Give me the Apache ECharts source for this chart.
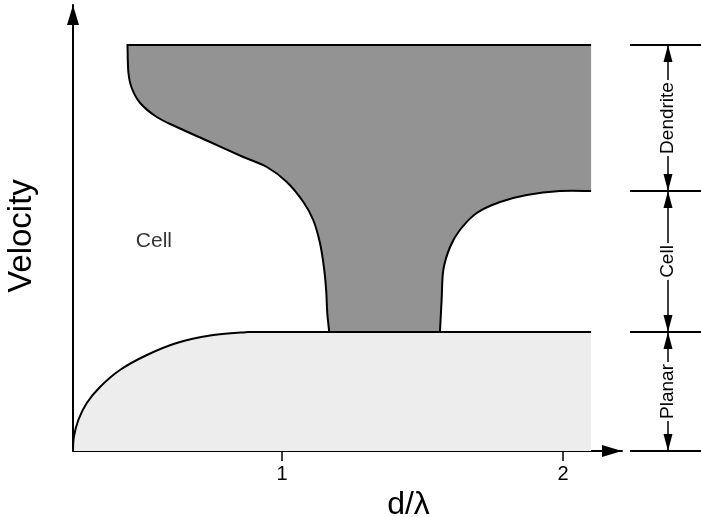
<!DOCTYPE html>
<html><head><meta charset="utf-8">
<script src="https://cdn.jsdelivr.net/npm/echarts@6/dist/echarts.min.js"></script>
<style>html,body{margin:0;padding:0;background:#fff}#c{width:701px;height:517px}</style>
</head><body><div id="c"></div>
<script>
// ---- data (x: d/lambda, y: velocity in arbitrary units) ----
const xTicks = [1, 2];
const xRange = [0.256, 2.21];
const yRange = [0, 4.46];
const regimeBoundaries = [0, 1.19, 2.60, 4.06];
const regimeNames = ['Planar', 'Cell', 'Dendrite'];
const planarEdge = [[0.256,0],[0.259,0.14],[0.275,0.31],[0.305,0.48],[0.352,0.64],[0.423,0.81],[0.519,0.96],[0.625,1.08],[0.744,1.155],[0.88,1.19]];
const regionRightX = 2.10;
const dendriteRightEdge = [[2.10,2.60],[1.989,2.60],[1.871,2.56],[1.776,2.49],[1.693,2.38],[1.633,2.21],[1.598,2.04],[1.574,1.81],[1.568,1.51],[1.562,1.19]];
const dendriteLeftEdge = [[1.168,1.19],[1.161,1.38],[1.157,1.61],[1.149,1.84],[1.135,2.08],[1.111,2.31],[1.076,2.49],[1.017,2.69],[0.946,2.84],[0.862,2.94],[0.744,3.09],[0.625,3.24],[0.554,3.34],[0.495,3.48],[0.465,3.63],[0.453,3.79],[0.45,4.06]];
const cellLabelPos = [[0.544, 2.10]];

const FONT = '"Liberation Sans", Arial, Helvetica, sans-serif';

function curvePath(pts) {
  let d = '';
  for (let i = 0; i < pts.length - 1; i++) {
    const p0 = pts[i-1] || pts[i], p1 = pts[i], p2 = pts[i+1], p3 = pts[i+2] || pts[i+1];
    const c1 = [p1[0] + (p2[0]-p0[0])/6, p1[1] + (p2[1]-p0[1])/6];
    const c2 = [p2[0] - (p3[0]-p1[0])/6, p2[1] - (p3[1]-p1[1])/6];
    d += ' C' + c1[0] + ' ' + c1[1] + ' ' + c2[0] + ' ' + c2[1] + ' ' + p2[0] + ' ' + p2[1];
  }
  return d;
}
const P = p => p[0] + ' ' + p[1];

const chart = echarts.init(document.getElementById('c'));
chart.setOption({
  animation: false,
  backgroundColor: '#fff',
  grid: { left: 73, right: 79, top: 5, bottom: 66, containLabel: false, outerBoundsMode: 'none' },
  xAxis: {
    type: 'value', min: xRange[0], max: xRange[1],
    axisLine: { show: true, onZero: false, lineStyle: { color: '#000', width: 2 },
      symbol: ['none', 'triangle'], symbolSize: [12, 20], symbolOffset: [0, -10] },
    axisTick: { show: true, customValues: xTicks, length: 10, lineStyle: { color: '#000', width: 1.5 } },
    axisLabel: { show: true, customValues: xTicks, fontSize: 20, color: '#000', margin: 13, fontFamily: 'Liberation Sans' },
    splitLine: { show: false },
    name: 'd/λ', nameLocation: 'middle', nameGap: 34,
    nameTextStyle: { fontSize: 32, color: '#000', fontFamily: 'Liberation Sans', padding: [0, 0, 0, 122] }
  },
  yAxis: {
    type: 'value', min: yRange[0], max: yRange[1],
    axisLine: { show: true, onZero: false, lineStyle: { color: '#000', width: 2 },
      symbol: ['none', 'triangle'], symbolSize: [12, 20], symbolOffset: [0, -10] },
    axisTick: { show: false }, axisLabel: { show: false }, splitLine: { show: false },
    name: 'Velocity', nameLocation: 'middle', nameGap: 35,
    nameTextStyle: { fontSize: 33, color: '#000', fontFamily: 'Liberation Sans', padding: [0, 16, 0, 0] }
  },
  series: [
    {
      type: 'custom', name: 'regions', clip: false, z: 1,
      data: [[xRange[0], 0]],
      renderItem: function (params, api) {
        const c = p => api.coord(p);
        const pl = planarEdge.map(c);
        const plTopR = c([regionRightX, planarEdge[planarEdge.length-1][1]]);
        const plBotR = c([regionRightX, 0]);
        const planarCurve = 'M' + P(pl[0]) + curvePath(pl);
        const dr = dendriteRightEdge.map(c), dl = dendriteLeftEdge.map(c);
        const topR = c([regionRightX, dendriteLeftEdge[dendriteLeftEdge.length-1][1]]);
        return {
          type: 'group',
          children: [
            { type: 'path', shape: { pathData: planarCurve + ' L' + P(plTopR) + ' L' + P(plBotR) + ' Z' },
              style: { fill: '#ededed', stroke: null } },
            { type: 'path', shape: { pathData: 'M' + P(topR) + ' L' + P(dr[0]) + curvePath(dr) + ' L' + P(dl[0]) + curvePath(dl) + ' Z' },
              style: { fill: '#939393', stroke: null } },
            { type: 'path', shape: { pathData: planarCurve + ' L' + P(plTopR) },
              style: { fill: null, stroke: '#000', lineWidth: 2 } },
            { type: 'path', shape: { pathData: 'M' + P(dr[0]) + curvePath(dr) + ' M' + P(dl[0]) + curvePath(dl) + ' L' + P(topR) },
              style: { fill: null, stroke: '#000', lineWidth: 2 } }
          ]
        };
      }
    },
    {
      type: 'custom', name: 'regimes', clip: false, z: 3,
      data: regimeNames.map((n, i) => ({ value: [xRange[1], regimeBoundaries[i]], name: n })),
      renderItem: function (params, api) {
        const i = params.dataIndex;
        const yLo = api.coord([xRange[1], regimeBoundaries[i]])[1];
        const yHi = api.coord([xRange[1], regimeBoundaries[i+1]])[1];
        const xEnd = api.coord([xRange[1], 0])[0];
        const hx0 = xEnd + 8, hx1 = api.getWidth();
        const vx = xEnd + 46;
        const hl = y => ({ type: 'line', shape: { x1: hx0, y1: y, x2: hx1, y2: y }, style: { stroke: '#000', lineWidth: 2 } });
        const children = [hl(yHi)];
        if (i === 0) children.push(hl(yLo));
        children.push({ type: 'line', shape: { x1: vx, y1: yHi, x2: vx, y2: yLo }, style: { stroke: '#000', lineWidth: 1.5 } });
        children.push({ type: 'polygon', shape: { points: [[vx, yHi], [vx-4.5, yHi+17], [vx+4.5, yHi+17]] }, style: { fill: '#000' } });
        children.push({ type: 'polygon', shape: { points: [[vx, yLo], [vx-4.5, yLo-17], [vx+4.5, yLo-17]] }, style: { fill: '#000' } });
        children.push({ type: 'text', x: vx, y: (yHi + yLo) / 2, rotation: Math.PI / 2,
          style: { text: regimeNames[i], font: '19px ' + FONT, fill: '#000', align: 'center', verticalAlign: 'middle',
            backgroundColor: '#fff', padding: [0, 2] } });
        return { type: 'group', children: children };
      }
    },
    {
      type: 'scatter', name: 'cellLabel', z: 4,
      data: cellLabelPos, symbolSize: 2, itemStyle: { color: 'rgba(0,0,0,0)' },
      label: { show: true, position: 'inside', formatter: 'Cell', fontSize: 21, color: '#000', fontFamily: 'Liberation Sans' }
    }
  ]
});
</script></body></html>
